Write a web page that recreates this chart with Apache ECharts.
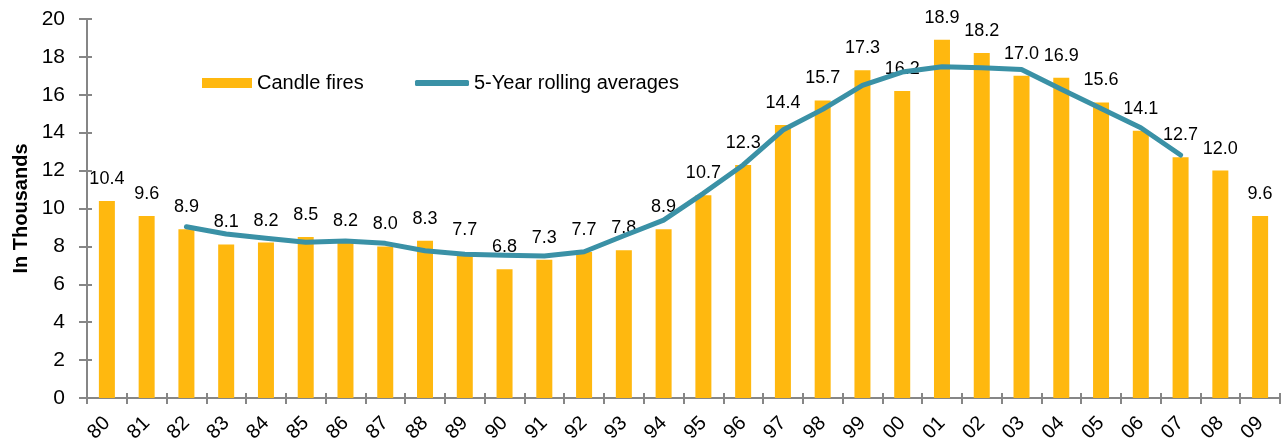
<!DOCTYPE html>
<html>
<head>
<meta charset="utf-8">
<script src="https://cdn.jsdelivr.net/npm/echarts@6/dist/echarts.min.js"></script>
<style>
html,body{margin:0;padding:0;background:#fff;}
#c{width:1283px;height:441px;}
</style>
</head>
<body>
<div id="c"></div>
<script>
const categories = ['80','81','82','83','84','85','86','87','88','89','90','91','92','93','94','95','96','97','98','99','00','01','02','03','04','05','06','07','08','09'];
const candleFires = [10.4,9.6,8.9,8.1,8.2,8.5,8.2,8.0,8.3,7.7,6.8,7.3,7.7,7.8,8.9,10.7,12.3,14.4,15.7,17.3,16.2,18.9,18.2,17.0,16.9,15.6,14.1,12.7,12.0,9.6];
const rollingAvg = [null,null,9.04,8.65,8.43,8.22,8.28,8.16,7.77,7.58,7.53,7.49,7.72,8.56,9.39,10.8,12.3,14.14,15.23,16.5,17.2,17.48,17.43,17.34,16.29,15.28,14.26,12.82,null,null];
const yTicks = {min:0, max:20, interval:2};

const FONT = 'Liberation Sans, Arial, sans-serif';
const AX = '#868686';
const chart = echarts.init(document.getElementById('c'), null, {renderer:'canvas'});
chart.setOption({
  animation:false,
  backgroundColor:'#fff',
  textStyle:{fontFamily:FONT, color:'#000'},
  grid:{left:87, right:3, top:19, bottom:43, containLabel:false, outerBoundsMode:'none'},
  legend:[
    {
      left:197, top:68, itemWidth:50, itemHeight:10,
      textStyle:{fontFamily:FONT, fontSize:20, color:'#000'},
      data:[{name:'Candle fires', icon:'rect'}]
    },
    {
      left:410, top:68, itemWidth:54, itemHeight:6,
      textStyle:{fontFamily:FONT, fontSize:20, color:'#000'},
      data:[{name:'5-Year rolling averages', icon:'roundRect', itemStyle:{color:'#3A91A6'}}]
    }
  ],
  xAxis:[
    {
      type:'category', data:categories, boundaryGap:true,
      axisLine:{lineStyle:{color:AX, width:2}},
      axisTick:{show:true, length:6, lineStyle:{color:AX, width:2}},
      axisLabel:{rotate:45, fontSize:20, color:'#000', fontFamily:FONT, margin:22, interval:0}
    },
    {
      type:'category', data:categories, boundaryGap:true, position:'bottom',
      axisLine:{show:false},
      axisTick:{show:true, inside:true, length:5, lineStyle:{color:AX, width:2}},
      axisLabel:{show:false}
    }
  ],
  yAxis:[
    {
      type:'value', min:yTicks.min, max:yTicks.max, interval:yTicks.interval,
      name:'In Thousands', nameLocation:'middle', nameGap:56, nameMoveOverlap:false,
      nameTextStyle:{fontFamily:FONT, fontSize:20, fontWeight:'bold', color:'#000'},
      axisLine:{show:true, lineStyle:{color:AX, width:2}},
      axisTick:{show:true, length:8, lineStyle:{color:AX, width:2}},
      splitLine:{show:false},
      axisLabel:{fontSize:21, color:'#000', fontFamily:FONT, margin:22}
    },
    {
      type:'value', min:yTicks.min, max:yTicks.max, interval:yTicks.interval, position:'left',
      axisLine:{show:false},
      axisTick:{show:true, inside:true, length:5, lineStyle:{color:AX, width:2}},
      splitLine:{show:false},
      axisLabel:{show:false}
    }
  ],
  series:[
    {
      name:'Candle fires', type:'bar', data:candleFires, barWidth:16,
      itemStyle:{color:'#FFB80F'},
      label:{show:true, position:'top', distance:13, fontSize:18, color:'#000', fontFamily:FONT,
        formatter:p=>p.value.toFixed(1)}
    },
    {
      name:'5-Year rolling averages', type:'line', data:rollingAvg, symbol:'none', showSymbol:false,
      lineStyle:{color:'#3A91A6', width:5, cap:'round', join:'round'},
      itemStyle:{color:'#3A91A6'}, z:3
    }
  ]
});
</script>
</body>
</html>
